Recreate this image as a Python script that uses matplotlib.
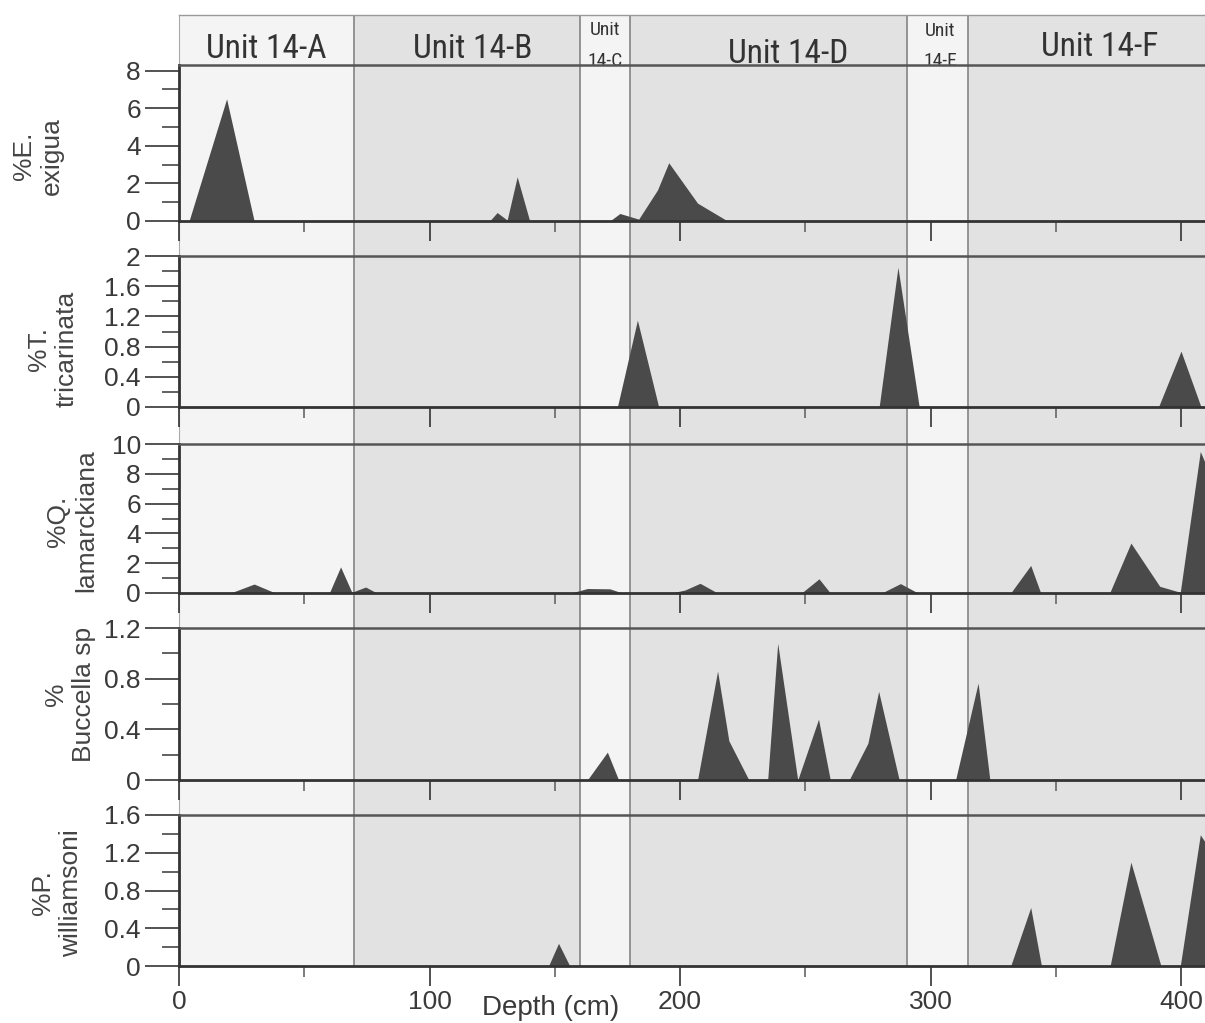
import matplotlib
matplotlib.use("Agg")
import matplotlib.pyplot as plt
from matplotlib import font_manager
from matplotlib.ticker import MultipleLocator, FuncFormatter

plt.rcParams['font.family'] = ['Liberation Sans', 'DejaVu Sans']

# sediment units along the core (depth in cm)
unit_names = ["Unit 14-A", "Unit 14-B", "Unit 14-C", "Unit 14-D", "Unit 14-E", "Unit 14-F"]
unit_edges = [0, 70, 160, 180, 290.5, 315, 410]
unit_colors = ["#f3f4f3", "#e2e2e2", "#f3f4f3", "#e2e2e2", "#f3f4f3", "#e2e2e2"]

# foraminifera abundance, % of assemblage vs depth (cm)
exigua_depth = [4, 19, 30, 124, 127, 131, 135, 140, 172, 176, 183.5, 191, 195.5, 207, 219]
exigua_pct = [0, 6.5, 0, 0, 0.45, 0.05, 2.35, 0, 0, 0.4, 0.1, 1.65, 3.1, 0.95, 0]

tricarinata_depth = [175, 183, 191.5, 279.5, 287, 295.5, 391, 400, 408]
tricarinata_pct = [0, 1.15, 0, 0, 1.85, 0, 0, 0.74, 0]

lamarckiana_depth = [20.5, 30, 38.5, 60, 64.5, 69, 74.5, 79, 156.5, 163, 172, 177,
                     196.5, 202, 208, 215, 248.5, 255.5, 260, 280.5, 288, 295,
                     332, 340, 344, 371.5, 380, 391.5, 399.7, 407.7, 412]
lamarckiana_pct = [0, 0.6, 0, 0, 1.75, 0.05, 0.4, 0, 0, 0.3, 0.28, 0,
                   0, 0.2, 0.65, 0, 0, 0.95, 0, 0, 0.63, 0,
                   0, 1.85, 0, 0, 3.35, 0.45, 0.05, 9.5, 7.8]

buccella_depth = [163, 171, 175.5, 207, 215, 219.5, 227.5, 235, 239, 247, 255.3, 260,
                  267.5, 275, 279.3, 287.5, 310, 319, 323.7]
buccella_pct = [0, 0.22, 0, 0, 0.86, 0.31, 0, 0, 1.08, 0, 0.48, 0,
                0, 0.29, 0.70, 0, 0, 0.765, 0]

williamsoni_depth = [147.5, 151.5, 156, 332, 340, 344.3, 371.7, 380, 392, 399.7, 407.7, 412]
williamsoni_pct = [0, 0.24, 0, 0, 0.62, 0, 0, 1.1, 0, 0, 1.39, 1.22]

W, H = 1205, 1023
X0, X1 = 179, 1205
XMAX = (X1 - X0) / 2.505


def frame(top, bottom, left=X0, right=X1):
    return [left / W, 1 - bottom / H, (right - left) / W, (bottom - top) / H]


fig = plt.figure(figsize=(W / 100, H / 100), dpi=100)

# shaded unit columns behind everything
bg = fig.add_axes(frame(15, 966))
bg.set_xlim(0, XMAX)
bg.set_ylim(0, 1)
for i in range(len(unit_names)):
    bg.axvspan(unit_edges[i], unit_edges[i + 1], color=unit_colors[i], lw=0)
for edge in unit_edges[1:-1]:
    bg.axvline(edge, color="#8c8c8c", lw=1.3)
bg.set_xticks([])
bg.set_yticks([])
for side in ["right", "bottom"]:
    bg.spines[side].set_visible(False)
bg.spines["left"].set_color("#aaaaaa")
bg.spines["top"].set_color("#9a9a9a")
bg.spines["top"].set_linewidth(1)

# header strip with unit names; prefer a narrow face when one is installed
names = {f.name for f in font_manager.fontManager.ttflist}
head_font, big, small = "Liberation Sans", 20, 12.5
for cand in ["Liberation Sans Narrow", "Roboto Condensed", "Open Sans Condensed",
             "DejaVu Sans Condensed"]:
    if cand in names:
        head_font, big, small = cand, 24, 14
        break

hd = fig.add_axes(frame(15, 65))
hd.set_facecolor("none")
hd.set_xlim(0, XMAX)
hd.set_ylim(0, 50)
hd.axis("off")
tc = "#333333"
kw = dict(ha="center", va="baseline", color=tc, family=head_font, clip_on=True)
hd.text(34.7, 7, unit_names[0], fontsize=big, **kw)
hd.text(117.4, 7, unit_names[1], fontsize=big, **kw)
hd.text(170, 30, "Unit", fontsize=small, **kw)
hd.text(170, -1, "14-C", fontsize=small, **kw)
hd.text(243, 2, unit_names[3], fontsize=big, **kw)
hd.text(303.8, 29, "Unit", fontsize=small, **kw)
hd.text(303.8, -1, "14-E", fontsize=small, **kw)
hd.text(367.7, 9, unit_names[5], fontsize=big, **kw)

panels = [
    (exigua_depth, exigua_pct, "%E.\nexigua", 8.3, 2, 1, (65, 221), (38, 156)),
    (tricarinata_depth, tricarinata_pct, "%T.\ntricarinata", 2, 0.4, 0.2, (256, 407), (53, 349)),
    (lamarckiana_depth, lamarckiana_pct, "%Q.\nlamarckiana", 10, 2, 1, (444, 593), (72, 521)),
    (buccella_depth, buccella_pct, "%\nBuccella sp", 1.2, 0.4, 0.2, (628, 780), (70, 694)),
    (williamsoni_depth, williamsoni_pct, "%P.\nwilliamsoni", 1.6, 0.4, 0.2, (815, 966), (57, 893)),
]

fmt = FuncFormatter(lambda v, p: "%g" % round(v, 2))

for k, (depth, pct, label, ytop, major, minor, (top, bottom), (lx, ly)) in enumerate(panels):
    ax = fig.add_axes(frame(top, bottom))
    ax.set_facecolor("none")
    ax.fill_between(depth, pct, 0, color="#4a4a4a", lw=0)
    ax.set_xlim(0, XMAX)
    ax.set_ylim(0, ytop)

    ax.yaxis.set_major_locator(MultipleLocator(major))
    ax.yaxis.set_minor_locator(MultipleLocator(minor))
    ax.yaxis.set_major_formatter(fmt)
    ax.xaxis.set_major_locator(MultipleLocator(100))
    ax.xaxis.set_minor_locator(MultipleLocator(50))

    ax.tick_params(axis="y", which="major", length=24.5, width=1.3, color="#444444",
                   pad=3, labelsize=19, labelcolor="#3a3a3a")
    ax.tick_params(axis="y", which="minor", length=12, width=1.3, color="#555555")
    ax.tick_params(axis="x", which="major", length=14.5, width=1.2, color="#333333",
                   labelsize=19, labelcolor="#3a3a3a", pad=3,
                   labelbottom=(k == len(panels) - 1))
    ax.tick_params(axis="x", which="minor", length=8, width=1.2, color="#666666")

    ax.spines["right"].set_visible(False)
    ax.spines["top"].set_color("#555555")
    ax.spines["top"].set_linewidth(1.8)
    ax.spines["bottom"].set_color("#333333")
    ax.spines["bottom"].set_linewidth(2)
    ax.spines["left"].set_color("#333333")
    ax.spines["left"].set_linewidth(2)

    fig.text(lx / W, 1 - ly / H, label, rotation=90, ha="center", va="center",
             multialignment="center", fontsize=19, color="#444444", linespacing=1.2)

    if k == len(panels) - 1:
        ax.set_xlabel("Depth (cm)", fontsize=20, color="#3a3a3a")
        ax.xaxis.set_label_coords((551 - X0) / (X1 - X0), -0.19)

fig.savefig("out.png", dpi=100)
